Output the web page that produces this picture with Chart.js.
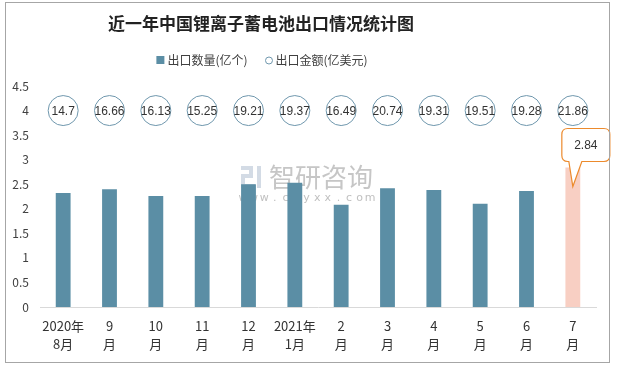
<!DOCTYPE html>
<html>
<head>
<meta charset="utf-8">
<script src="https://cdn.jsdelivr.net/npm/chart.js@4.4.0/dist/chart.umd.min.js"></script>
<style>
  body { margin: 0; background: #fff; }
  #wrap { width: 617px; height: 367px; position: relative; }
</style>
</head>
<body>
<div id="wrap"><canvas id="chart" width="617" height="367"></canvas></div>
<script>
// data
const months = [["2020年", "8月"], ["9", "月"], ["10", "月"], ["11", "月"], ["12", "月"], ["2021年", "1月"],
  ["2", "月"], ["3", "月"], ["4", "月"], ["5", "月"], ["6", "月"], ["7", "月"]];
const exportVolume = [2.32, 2.40, 2.26, 2.26, 2.50, 2.53, 2.08, 2.42, 2.38, 2.10, 2.36, 2.84];
const exportAmount = [14.7, 16.66, 16.13, 15.25, 19.21, 19.37, 16.49, 20.74, 19.31, 19.51, 19.28, 21.86];
const yTicks = [0, 0.5, 1, 1.5, 2, 2.5, 3, 3.5, 4, 4.5];
const bubbleRow = 4; // the amount circles sit on this y level
const calloutIndex = 11;

const titleText = "近一年中国锂离子蓄电池出口情况统计图";
const volumeName = "出口数量(亿个)";
const amountName = "出口金额(亿美元)";

const barColor = "#5b8ea5";
const lastBarColor = "#f8cfc3";
const circleColor = "#6f97ad";
const cjk = "'Noto Sans CJK SC', 'Noto Sans', sans-serif";

const decorPlugin = {
  id: "decor",
  beforeDatasetsDraw(chart) {
    // watermark behind the bars
    const ctx = chart.ctx;
    ctx.save();
    ctx.fillStyle = "#d3dbe5";
    ctx.fillRect(241, 166, 12, 4);
    ctx.fillRect(249, 166, 4, 12);
    ctx.fillRect(241, 174, 12, 4);
    ctx.fillRect(241, 174, 4, 14);
    ctx.fillRect(241, 184, 14, 4);
    ctx.fillRect(257, 166, 4, 22);
    ctx.fillStyle = "#c6c6c6";
    ctx.font = "26px " + cjk;
    ctx.textBaseline = "middle";
    ctx.textAlign = "left";
    ctx.fillText("智研咨询", 269, 177);
    ctx.font = "11px 'DejaVu Sans', sans-serif";
    ctx.fillStyle = "#c0c0c0";
    const site = "www.chyxx.com";
    ctx.textAlign = "center";
    for (let i = 0; i < site.length; i++) {
      ctx.fillText(site[i], 243 + i * 10.6, 198);
    }
    ctx.restore();
  },
  afterDatasetsDraw(chart) {
    const ctx = chart.ctx;
    // amount labels inside the circles
    const lineMeta = chart.getDatasetMeta(1);
    ctx.save();
    ctx.fillStyle = "#333";
    ctx.font = "12px 'Liberation Sans Narrow', 'Liberation Sans', sans-serif";
    ctx.textAlign = "center";
    ctx.textBaseline = "middle";
    lineMeta.data.forEach((pt, i) => {
      ctx.fillText(String(exportAmount[i]), pt.x, pt.y + 1);
    });

    // callout on the last bar
    const bar = chart.getDatasetMeta(0).data[calloutIndex];
    const x = bar.x, y = bar.y;
    const l = x - 11, r = x + 37, t = y - 39, b = y - 6, rad = 6;
    ctx.beginPath();
    ctx.moveTo(l + rad, t);
    ctx.lineTo(r - rad, t);
    ctx.quadraticCurveTo(r, t, r, t + rad);
    ctx.lineTo(r, b - rad);
    ctx.quadraticCurveTo(r, b, r - rad, b);
    ctx.lineTo(x + 9, b);
    ctx.lineTo(x, y + 19);
    ctx.lineTo(x - 4, b);
    ctx.lineTo(l + rad, b);
    ctx.quadraticCurveTo(l, b, l, b - rad);
    ctx.lineTo(l, t + rad);
    ctx.quadraticCurveTo(l, t, l + rad, t);
    ctx.closePath();
    ctx.fillStyle = "#fff";
    ctx.fill();
    ctx.strokeStyle = "#ec8a2c";
    ctx.lineWidth = 1.2;
    ctx.stroke();
    ctx.fillStyle = "#333";
    ctx.font = "12px 'Liberation Sans Narrow', 'Liberation Sans', sans-serif";
    ctx.fillText(String(exportVolume[calloutIndex]), (l + r) / 2, (t + b) / 2 + 1);
    ctx.restore();
  },
  afterDraw(chart) {
    const ctx = chart.ctx;
    ctx.save();
    // title
    ctx.fillStyle = "#222";
    ctx.font = "bold 17px " + cjk;
    ctx.textAlign = "center";
    ctx.textBaseline = "middle";
    ctx.fillText(titleText, 261, 24);

    // legend
    ctx.font = "12px " + cjk;
    ctx.textAlign = "left";
    const w1 = ctx.measureText(volumeName).width;
    const w2 = ctx.measureText(amountName).width;
    const total = 11 + w1 + 18 + 10 + w2;
    let cx = 262 - total / 2;
    ctx.fillStyle = barColor;
    ctx.fillRect(cx, 56, 8, 8);
    ctx.fillStyle = "#404040";
    ctx.fillText(volumeName, cx + 11, 60);
    cx += 11 + w1 + 18;
    ctx.beginPath();
    ctx.arc(cx + 3.5, 60.5, 3.5, 0, Math.PI * 2);
    ctx.strokeStyle = circleColor;
    ctx.lineWidth = 1;
    ctx.stroke();
    ctx.fillText(amountName, cx + 10, 60);

    // outer frame
    ctx.strokeStyle = "#a6a6a6";
    ctx.lineWidth = 1;
    ctx.strokeRect(5.5, 2.5, 604, 360);
    ctx.restore();
  }
};

new Chart(document.getElementById("chart"), {
  data: {
    labels: months,
    datasets: [
      {
        type: "bar",
        label: volumeName,
        data: exportVolume,
        backgroundColor: exportVolume.map((_, i) => i === calloutIndex ? lastBarColor : barColor),
        borderWidth: 0,
        barPercentage: 0.32,
        categoryPercentage: 1,
        order: 2
      },
      {
        type: "line",
        label: amountName,
        data: exportAmount.map(() => bubbleRow),
        showLine: false,
        pointStyle: "circle",
        pointRadius: 15,
        pointBorderWidth: 1,
        pointBorderColor: circleColor,
        pointBackgroundColor: "#fff",
        order: 1
      }
    ]
  },
  options: {
    responsive: false,
    animation: false,
    layout: { padding: { top: 86, right: 21, left: 0, bottom: 0 } },
    plugins: {
      legend: { display: false },
      title: { display: false },
      tooltip: { enabled: false }
    },
    scales: {
      x: {
        grid: { display: false, drawTicks: false },
        border: { display: true, color: "#d9d9d9", width: 1 },
        ticks: {
          color: "#333",
          font: { size: 13, family: cjk, lineHeight: 1.38 },
          padding: 10,
          maxRotation: 0,
          autoSkip: false
        },
        afterFit(s) { s.height = 60; }
      },
      y: {
        min: 0,
        max: 4.5,
        afterBuildTicks(s) { s.ticks = yTicks.map(v => ({ value: v })); },
        grid: { display: false, drawTicks: false },
        border: { display: false },
        ticks: {
          color: "#404040",
          font: { size: 12, family: cjk },
          padding: 11,
          callback: v => String(v)
        },
        afterFit(s) { s.width = 40; }
      }
    }
  },
  plugins: [decorPlugin]
});
</script>
</body>
</html>
